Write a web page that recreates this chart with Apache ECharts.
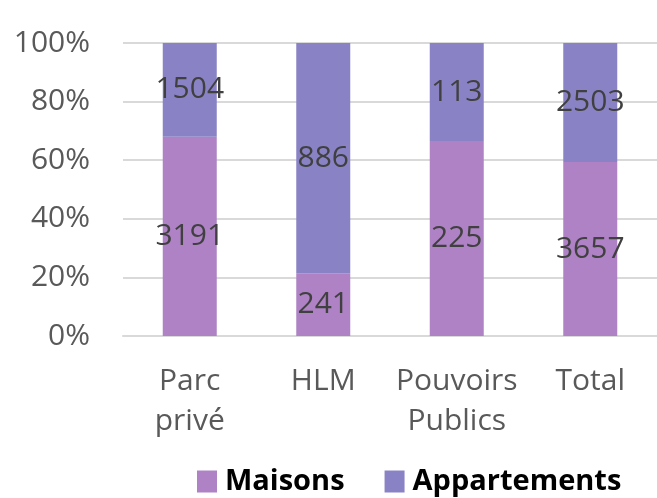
<!DOCTYPE html>
<html>
<head>
<meta charset="utf-8">
<script src="https://cdn.jsdelivr.net/npm/echarts@6/dist/echarts.min.js"></script>
<style>
  html, body { margin: 0; padding: 0; background: #fff; }
  #chart { width: 657px; height: 498px; }
</style>
</head>
<body>
<div id="chart"></div>
<script>
// Logements par type de parc
const categories = ['Parc\nprivé', 'HLM', 'Pouvoirs\nPublics', 'Total'];
const maisons = [3191, 241, 225, 3657];
const appartements = [1504, 886, 113, 2503];
const yTicks = [0, 20, 40, 60, 80, 100];

// 100 % stacked: each column is shown as shares of its own total
const totals = maisons.map((m, i) => m + appartements[i]);
const maisonsPct = maisons.map((m, i) => m / totals[i] * 100);
const appartementsPct = appartements.map((a, i) => a / totals[i] * 100);

const FONT = 'Open Sans';
const chart = echarts.init(document.getElementById('chart'));

const labelStyle = (raw) => ({
  show: true,
  position: 'inside',
  color: '#404040',
  fontFamily: FONT,
  fontSize: 30,
  formatter: (p) => String(raw[p.dataIndex])
});

chart.setOption({
  animation: false,
  grid: { left: 123, right: -3, top: 43, bottom: 162, containLabel: false },
  legend: {
    top: 467,
    left: 197,
    padding: 0,
    itemWidth: 20,
    itemHeight: 22,
    itemGap: 40,
    icon: 'rect',
    textStyle: { fontFamily: FONT, fontSize: 29, fontWeight: 'bold', color: '#000', padding: [0, 0, 0, 3] },
    data: ['Maisons', 'Appartements']
  },
  xAxis: {
    type: 'category',
    data: categories,
    axisLine: { show: true, lineStyle: { color: '#d9d9d9', width: 2 } },
    axisTick: { show: false },
    axisLabel: { interval: 0, color: '#595959', fontFamily: FONT, fontSize: 30, lineHeight: 40, margin: 25 }
  },
  yAxis: {
    type: 'value',
    min: 0,
    max: 100,
    interval: 20,
    axisLine: { show: false },
    axisTick: { show: false },
    splitLine: { lineStyle: { color: '#d9d9d9', width: 2 } },
    axisLabel: {
      color: '#595959', fontFamily: FONT, fontSize: 30, margin: 33,
      formatter: (v) => yTicks.includes(v) ? v + '%' : ''
    }
  },
  series: [
    {
      name: 'Maisons',
      type: 'bar',
      stack: 'parc',
      barWidth: 54,
      data: maisonsPct,
      itemStyle: { color: '#ae82c5' },
      label: labelStyle(maisons)
    },
    {
      name: 'Appartements',
      type: 'bar',
      stack: 'parc',
      barWidth: 54,
      data: appartementsPct,
      itemStyle: { color: '#8983c6' },
      label: labelStyle(appartements)
    }
  ]
});
</script>
</body>
</html>
